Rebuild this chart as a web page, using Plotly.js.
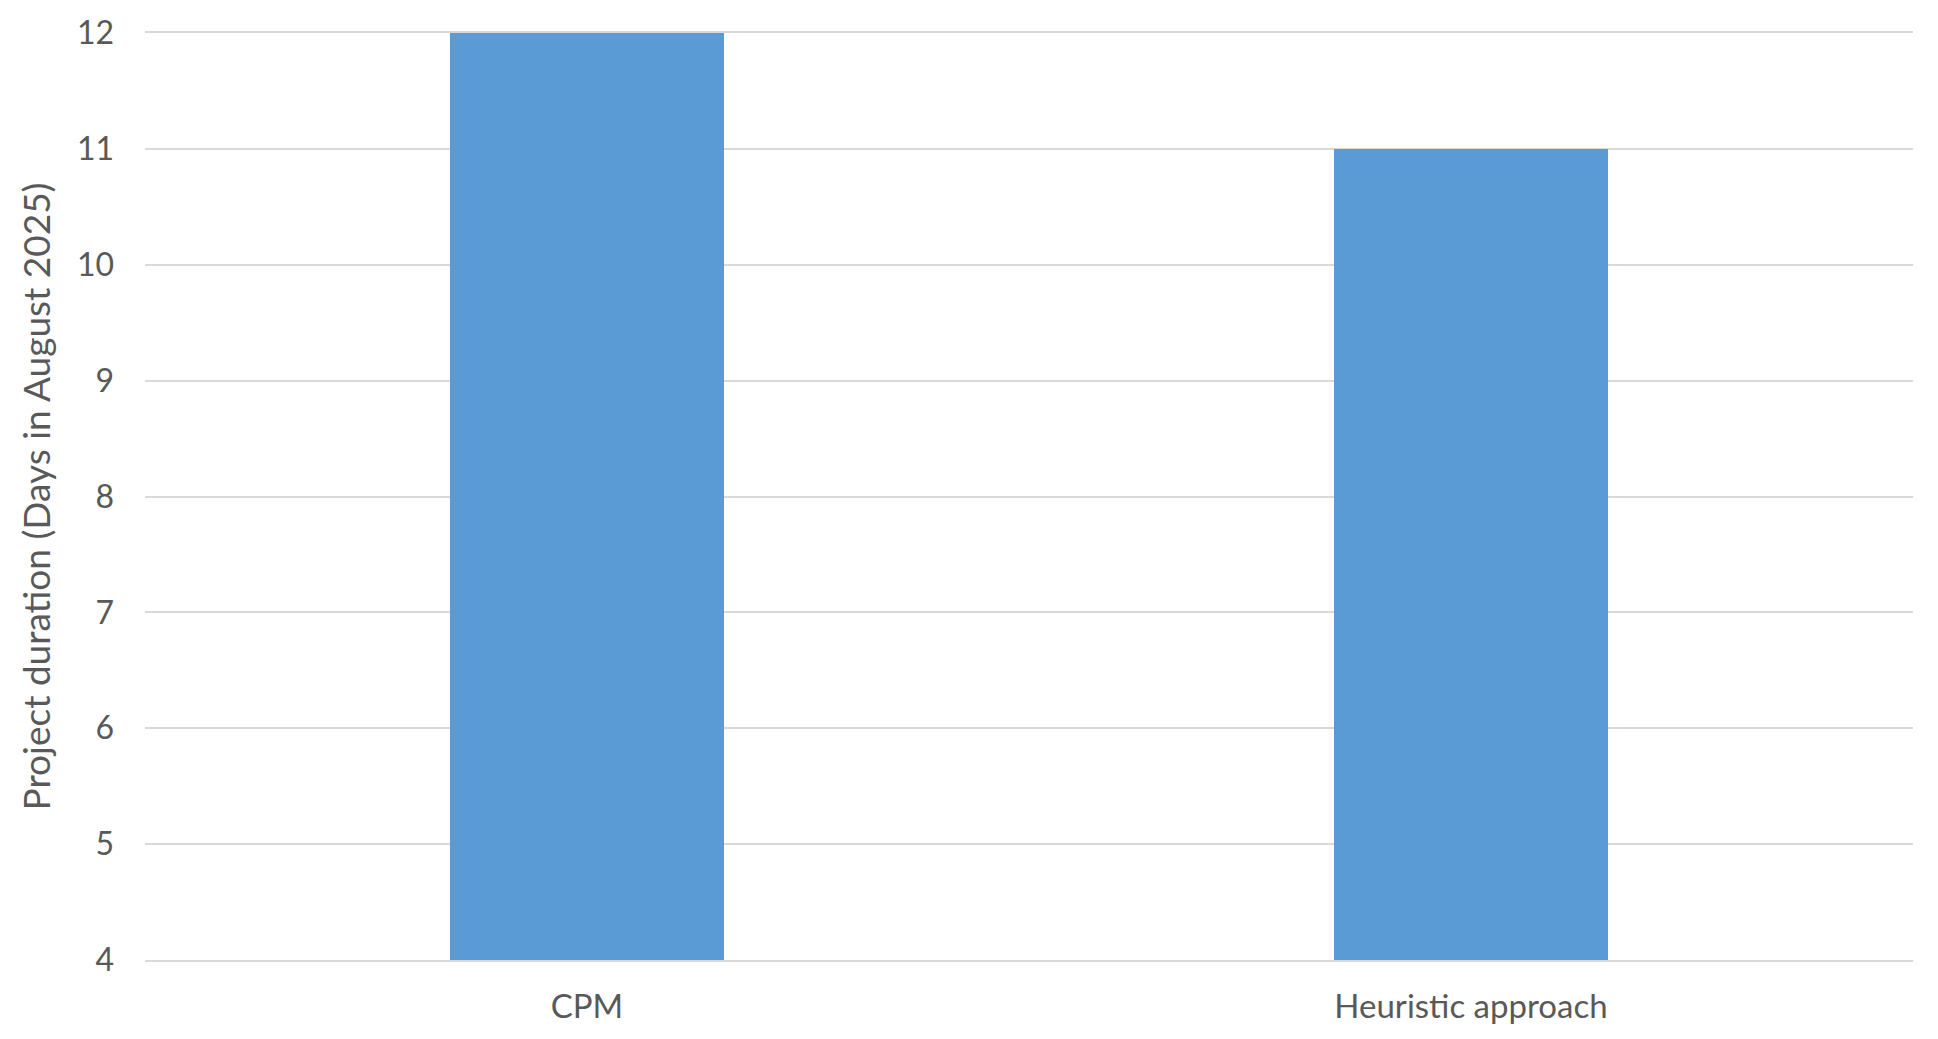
<!DOCTYPE html>
<html>
<head>
<meta charset="utf-8">
<script src="https://cdn.plot.ly/plotly-3.0.1.min.js"></script>
<style>html,body{margin:0;padding:0;background:#fff;}#chart{width:1938px;height:1039px;}</style>
</head>
<body>
<div id="chart"></div>
<script>
const categories = ["CPM", "Heuristic approach"];
const durations = [12, 11];
const yTickValues = [4, 5, 6, 7, 8, 9, 10, 11, 12];
const yAxisTitle = "Project duration (Days in August 2025)";

const trace = {
  type: "bar",
  x: categories,
  y: durations,
  base: 0,
  marker: {color: "#5B9BD5", line: {width: 0}},
  hoverinfo: "x+y"
};

const layout = {
  width: 1938,
  height: 1039,
  margin: {l: 145, r: 25, t: 33, b: 79},
  paper_bgcolor: "#ffffff",
  plot_bgcolor: "#ffffff",
  font: {family: "Lato, 'Open Sans', sans-serif", color: "#595959", size: 33},
  showlegend: false,
  bargap: 0.69,
  xaxis: {
    type: "category",
    showgrid: false,
    showline: true,
    mirror: true,
    linecolor: "#D9D9D9",
    linewidth: 2,
    ticks: "",
    tickfont: {size: 33, color: "#595959"},
    ticklabelstandoff: 16,
    zeroline: false
  },
  yaxis: {
    range: [4, 12],
    tickvals: yTickValues,
    ticktext: yTickValues.map(String),
    showgrid: true,
    gridcolor: "#D9D9D9",
    gridwidth: 2,
    showline: false,
    zeroline: false,
    ticks: "",
    tickfont: {size: 32, color: "#595959"},
    ticklabelstandoff: 30,
    title: {text: yAxisTitle, font: {size: 37, color: "#595959"}, standoff: 14}
  }
};

Plotly.newPlot("chart", [trace], layout, {displayModeBar: false, staticPlot: true});
</script>
</body>
</html>
